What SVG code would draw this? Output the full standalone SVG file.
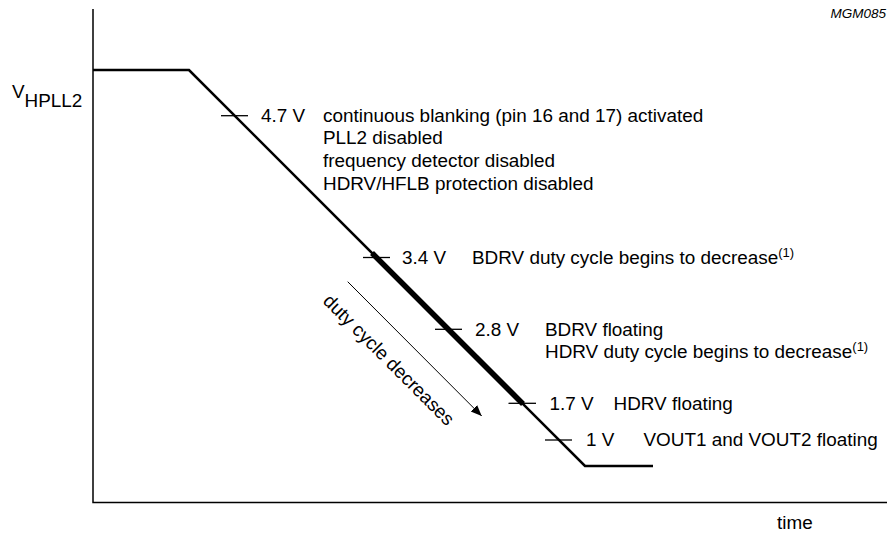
<svg xmlns="http://www.w3.org/2000/svg" width="887" height="533" viewBox="0 0 887 533">
<style>
text{font-family:"Liberation Sans",Arial,sans-serif;font-size:18.9px;fill:#000}
.ax{stroke:#000;stroke-width:1.5;fill:none}
.crv{stroke:#000;stroke-width:2.6;fill:none;stroke-linejoin:miter}
.thk{stroke:#000;stroke-width:5.5;fill:none}
.tk{stroke:#000;stroke-width:1.3}
.sup{font-size:13px}
.ref{font-size:13.5px;font-style:italic}
</style>
<defs>
<marker id="ah" markerUnits="userSpaceOnUse" markerWidth="12" markerHeight="10" refX="11" refY="4.5" orient="auto">
<path d="M0,0 L11,4.5 L0,9 Z" fill="#000"/>
</marker>
</defs>
<rect width="887" height="533" fill="#fff"/>
<g id="axes">
<path class="ax" d="M93,9 V502.5 H887"/>
<text x="12" y="98">V</text><text x="24.5" y="107">HPLL2</text>
<text x="777" y="529">time</text>
<text class="ref" x="886" y="17.5" text-anchor="end">MGM085</text>
</g>
<g id="curve">
<path class="crv" d="M93,70 H189 L585,466 H653"/>
<path class="thk" d="M372,253 L523,404"/>
</g>
<g id="t47">
<line class="tk" x1="221" y1="115.7" x2="248" y2="115.7"/>
<text x="261" y="121.5">4.7 V</text>
<text x="323" y="121.5">continuous blanking (pin 16 and 17) activated</text>
<text x="323" y="144.2">PLL2 disabled</text>
<text x="323" y="166.9">frequency detector disabled</text>
<text x="323" y="189.6">HDRV/HFLB protection disabled</text>
</g>
<g id="t34">
<line class="tk" x1="363" y1="257.5" x2="390" y2="257.5"/>
<text x="402" y="264">3.4 V</text>
<text x="472" y="264">BDRV duty cycle begins to decrease<tspan class="sup" dy="-7.5">(1)</tspan></text>
</g>
<g id="t28">
<line class="tk" x1="435" y1="329.3" x2="462" y2="329.3"/>
<text x="475" y="336">2.8 V</text>
<text x="545" y="336">BDRV floating</text>
<text x="545" y="358">HDRV duty cycle begins to decrease<tspan class="sup" dy="-7.5">(1)</tspan></text>
</g>
<g id="t17">
<line class="tk" x1="508.5" y1="403.3" x2="536" y2="403.3"/>
<text x="549.5" y="410">1.7 V</text>
<text x="613.5" y="410">HDRV floating</text>
</g>
<g id="t10">
<line class="tk" x1="545" y1="440" x2="572" y2="440"/>
<text x="586" y="446">1 V</text>
<text x="643.5" y="446">VOUT1 and VOUT2 floating</text>
</g>
<g id="connectors">
<line x1="347.7" y1="281.7" x2="481.7" y2="416" stroke="#000" stroke-width="1" marker-end="url(#ah)"/>
<text transform="translate(322,302) rotate(45)" style="font-size:18.9px">duty cycle decreases</text>
</g>
</svg>
